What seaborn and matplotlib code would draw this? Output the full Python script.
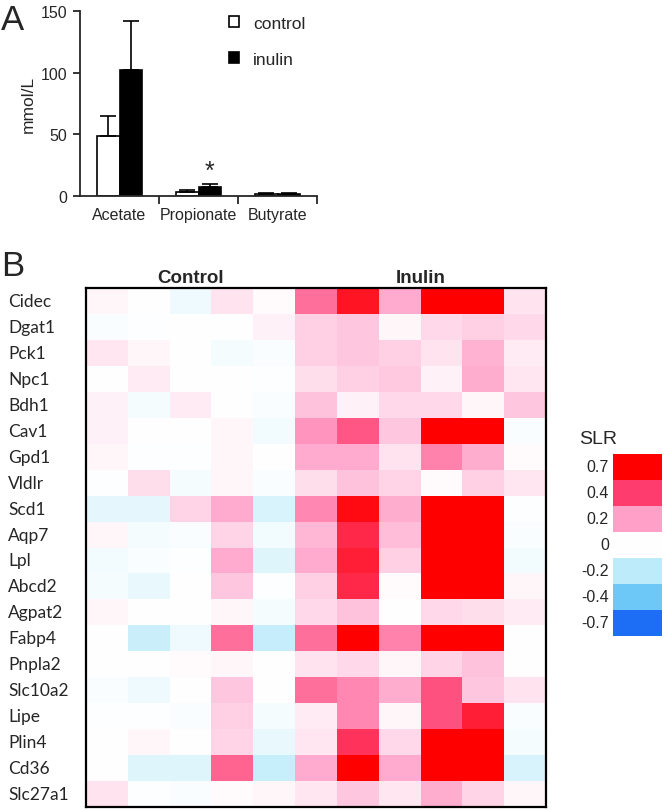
import numpy as np
import pandas as pd
import seaborn as sns
import matplotlib.pyplot as plt
from matplotlib.colors import LinearSegmentedColormap

# Panel A: short chain fatty acids (mmol/L), mean and upper error
acids = ["Acetate", "Propionate", "Butyrate"]
groups = ["control", "inulin"]
control_mean = [49, 3.5, 2.0]
inulin_mean = [102, 7.2, 1.5]
control_err = [16, 1.0, 0.5]
inulin_err = [40, 2.3, 0.8]

# Panel B: SLR per gene, 5 control and 6 inulin animals
genes = ["Cidec", "Dgat1", "Pck1", "Npc1", "Bdh1", "Cav1", "Gpd1", "Vldlr",
         "Scd1", "Aqp7", "Lpl", "Abcd2", "Agpat2", "Fabp4", "Pnpla2",
         "Slc10a2", "Lipe", "Plin4", "Cd36", "Slc27a1"]
control_slr = [
    [0.02, 0.00, -0.05, 0.06, 0.01],
    [-0.02, -0.01, 0.00, 0.00, 0.03],
    [0.05, 0.02, 0.00, -0.03, -0.02],
    [0.00, 0.04, 0.00, 0.00, -0.01],
    [0.03, -0.03, 0.04, 0.00, -0.02],
    [0.03, 0.00, 0.00, 0.02, -0.04],
    [0.02, -0.01, -0.01, 0.02, 0.00],
    [-0.01, 0.07, -0.03, 0.02, -0.02],
    [-0.08, -0.08, 0.09, 0.18, -0.12],
    [0.02, -0.03, -0.02, 0.09, -0.04],
    [-0.04, -0.02, -0.01, 0.18, -0.10],
    [-0.03, -0.07, 0.00, 0.12, -0.01],
    [0.02, 0.00, 0.00, 0.02, -0.03],
    [0.00, -0.16, -0.05, 0.30, -0.18],
    [0.00, 0.00, 0.01, 0.02, 0.00],
    [-0.02, -0.05, 0.00, 0.12, 0.00],
    [-0.01, -0.01, -0.02, 0.10, -0.03],
    [0.00, 0.02, 0.00, 0.09, -0.07],
    [0.00, -0.10, -0.10, 0.32, -0.17],
    [0.06, -0.01, -0.02, 0.01, 0.02],
]
inulin_slr = [
    [0.30, 0.60, 0.18, 0.80, 0.80, 0.06],
    [0.10, 0.12, 0.02, 0.08, 0.10, 0.08],
    [0.10, 0.12, 0.10, 0.06, 0.16, 0.04],
    [0.07, 0.10, 0.11, 0.03, 0.17, 0.05],
    [0.13, 0.03, 0.08, 0.08, 0.02, 0.12],
    [0.22, 0.35, 0.12, 0.80, 0.80, -0.02],
    [0.18, 0.18, 0.06, 0.26, 0.17, 0.01],
    [0.07, 0.13, 0.09, 0.01, 0.10, 0.05],
    [0.25, 0.65, 0.17, 0.80, 0.80, -0.01],
    [0.15, 0.50, 0.14, 0.80, 0.80, -0.02],
    [0.18, 0.55, 0.10, 0.80, 0.80, -0.04],
    [0.10, 0.50, 0.01, 0.80, 0.80, 0.02],
    [0.08, 0.13, 0.00, 0.08, 0.07, 0.04],
    [0.30, 0.75, 0.26, 0.80, 0.80, 0.00],
    [0.06, 0.08, 0.02, 0.09, 0.13, 0.00],
    [0.30, 0.25, 0.17, 0.36, 0.12, 0.06],
    [0.04, 0.25, 0.02, 0.36, 0.55, -0.02],
    [0.05, 0.45, 0.08, 0.80, 0.80, -0.03],
    [0.18, 0.75, 0.18, 0.80, 0.80, -0.12],
    [0.05, 0.12, 0.05, 0.17, 0.09, 0.02],
]
slr_levels = [0.7, 0.4, 0.2, 0, -0.2, -0.4, -0.7]
slr_labels = ["0.7", "0.4", "0.2", "0", "-0.2", "-0.4", "-0.7"]

sns.set_style("ticks")
plt.rcParams["font.family"] = ["Liberation Sans", "DejaVu Sans"]

# blue - white - red scale anchored on the legend colours
cmap = LinearSegmentedColormap.from_list("slr", [
    (0.0, "#1e6ef5"), (0.3 / 1.4, "#6ec8f7"), (0.5 / 1.4, "#beebfa"),
    (0.5, "#ffffff"), (0.9 / 1.4, "#ffa0c8"), (1.1 / 1.4, "#ff3d6e"),
    (1.0, "#ff0000")])

fig = plt.figure(figsize=(6.66, 8.12), dpi=100)

# ---- Panel A ----
ax1 = fig.add_axes([80 / 666, 1 - 197 / 812, 237 / 666, 185 / 812])
df_a = pd.DataFrame({
    "acid": acids * 2,
    "group": [groups[0]] * 3 + [groups[1]] * 3,
    "value": control_mean + inulin_mean,
})
sns.barplot(data=df_a, x="acid", y="value", hue="group", ax=ax1,
            palette={"control": "white", "inulin": "black"},
            edgecolor="black", linewidth=1.2, width=0.56, errorbar=None)

for cont, errs in zip(ax1.containers, [control_err, inulin_err]):
    for bar, e in zip(cont, errs):
        x = bar.get_x() + bar.get_width() / 2
        h = bar.get_height()
        ax1.errorbar(x, h, yerr=[[0], [e]], color="black", lw=1.2,
                     capsize=6, capthick=1.2)

# significance mark over propionate / inulin
prop_bar = ax1.containers[1][1]
ax1.text(prop_bar.get_x() + prop_bar.get_width() / 2,
         inulin_mean[1] + inulin_err[1] + 11, "*", ha="center", va="center",
         fontsize=18)

ax1.set_ylim(0, 150)
ax1.set_xlim(-0.5, 2.5)
ax1.set_yticks([0, 50, 100, 150])
ax1.set_xlabel("")
ax1.set_ylabel("mmol/L", fontsize=12.5, labelpad=4)
ax1.set_xticks([0.5, 1.5, 2.5], minor=True)
ax1.tick_params(axis="x", which="major", length=0, pad=8, labelsize=11.5)
ax1.tick_params(axis="x", which="minor", length=6, width=1.3, direction="out")
ax1.tick_params(axis="y", length=5, width=1.3, labelsize=11.5, pad=4)
sns.despine(ax=ax1)
for s in ["left", "bottom"]:
    ax1.spines[s].set_linewidth(1.3)

handles, labels = ax1.get_legend_handles_labels()
ax1.legend(handles, labels, loc="upper left", frameon=False,
           bbox_to_anchor=(229 / 666, 1 - 17 / 812), bbox_transform=fig.transFigure,
           borderaxespad=0, borderpad=0, fontsize=12.5, labelspacing=1.2,
           handlelength=0.6, handleheight=0.6, handletextpad=0.8)

fig.text(0.002, 0.995, "A", fontsize=25, va="top", ha="left")

# ---- Panel B ----
ax2 = fig.add_axes([86 / 666, 1 - 808 / 812, 460 / 666, 519 / 812])
cols = [f"C{i + 1}" for i in range(5)] + [f"I{i + 1}" for i in range(6)]
mat = pd.DataFrame([c + i for c, i in zip(control_slr, inulin_slr)],
                   index=genes, columns=cols)
sns.heatmap(mat, ax=ax2, cmap=cmap, vmin=-0.7, vmax=0.7, cbar=False,
            xticklabels=False, yticklabels=genes)
for sp in ax2.spines.values():
    sp.set_visible(True)
    sp.set_linewidth(1.6)
    sp.set_color("black")
ax2.tick_params(axis="y", length=0, pad=56)
for lab in ax2.get_yticklabels():
    lab.set_rotation(0)
    lab.set_horizontalalignment("left")
    lab.set_fontfamily("Lato")
    lab.set_fontsize(12.5)
ax2.set_ylabel("")

hdr = ax2.get_xaxis_transform()
ax2.text(2.5, 1.02, "Control", transform=hdr, ha="center", va="center",
         fontsize=13.5, fontweight="bold")
ax2.text(8.0, 1.02, "Inulin", transform=hdr, ha="center", va="center",
         fontsize=13.5, fontweight="bold")

fig.text(0.002, 1 - 250 / 812, "B", fontsize=25, va="top", ha="left")

# ---- SLR legend ----
axl = fig.add_axes([613 / 666, 1 - 637 / 812, 49 / 666, 182 / 812])
sns.heatmap(np.array(slr_levels)[:, None], ax=axl, cmap=cmap, vmin=-0.7,
            vmax=0.7, cbar=False, xticklabels=False, yticklabels=slr_labels)
axl.tick_params(axis="y", length=0, pad=3, labelsize=11.5)
for lab in axl.get_yticklabels():
    lab.set_rotation(0)
fig.text(598 / 666, 1 - 440 / 812, "SLR", fontsize=14, ha="center", va="center")

fig.savefig("out.png", dpi=100)
